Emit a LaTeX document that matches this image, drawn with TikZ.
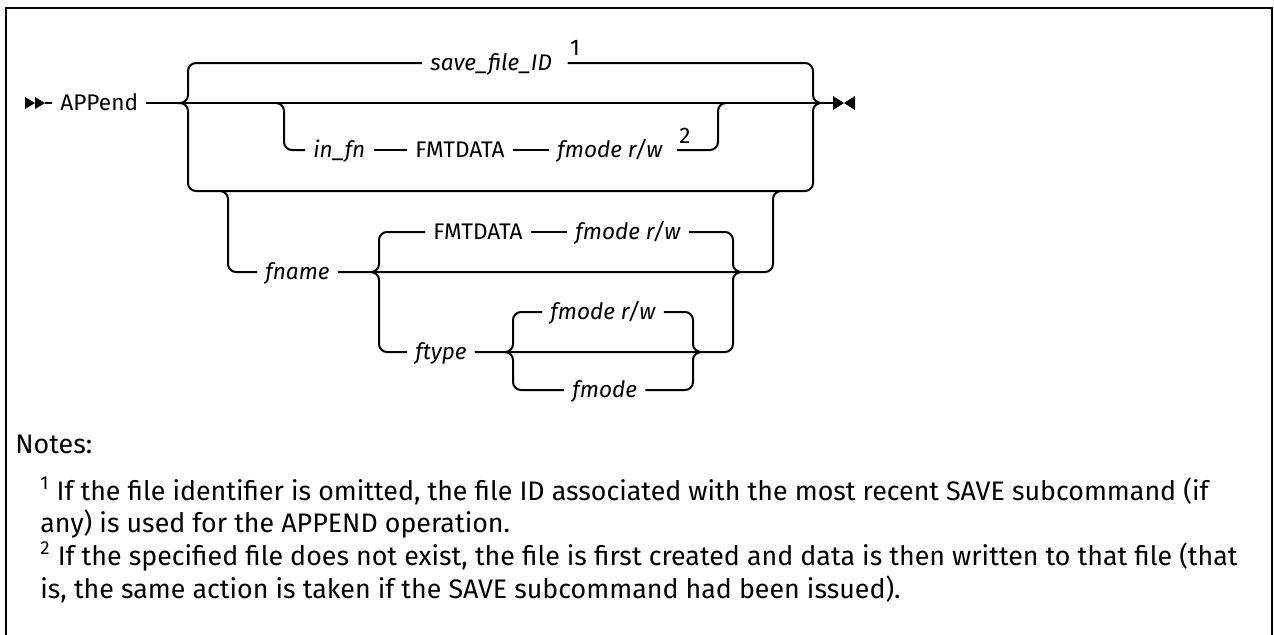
\documentclass[tikz,border=0pt]{standalone}
\usepackage{fontspec}
\setmainfont{Fira Sans}
\begin{document}
\begin{tikzpicture}[x=0.5pt,y=-0.5pt,
  rr/.style={line width=1pt, rounded corners=4pt},
  kw/.style={inner xsep=4pt, inner ysep=0pt, text height=1.4ex, text depth=0pt, anchor=west, font=\fontsize{11.3}{13}\selectfont},
  var/.style={kw, font=\fontsize{11.3}{13}\selectfont\itshape},
  noteref/.style={inner sep=1pt, font=\fontsize{11.3}{13}\selectfont},
  notetxt/.style={inner sep=0pt, anchor=base west, font=\fontsize{13.4}{15}\selectfont},
  tip/.style={fill=black}]
\useasboundingbox (0,0) rectangle (1274,634);
% frame
\draw[line width=1pt] (6,640) -- (6,8) -- (1272,8) -- (1272,640);
% start and end markers
\coordinate (s1) at (35,103);
\coordinate (s2) at (45,103);
\coordinate (e0) at (833,103);
\coordinate (e1) at (844,103);
\fill[tip] (25,97) -- (s1) -- (25,109) -- cycle;
\fill[tip] (35,97) -- (s2) -- (35,109) -- cycle;
\fill[tip] (833,96) -- (e1) -- (833,110) -- cycle;
\fill[tip] (855,96) -- (e1) -- (855,110) -- cycle;
% nodes
\node[kw]  (app)   at (52,103)  {APPend};
\node[var] (sfid)  at (422,63)  {save\_file\_ID};
\node[noteref] (r1) at (575,48) {1};
\node[var] (infn)  at (305,150) {in\_fn};
\node[kw]  (fmt1)  at (407,150) {FMTDATA};
\node[var] (fm1)   at (549,150) {fmode r/w};
\node[noteref] (r2) at (685,136) {2};
\node[var] (fname) at (257,272) {fname};
\node[kw]  (fmt2)  at (425,232) {FMTDATA};
\node[var] (fm2)   at (567,232) {fmode r/w};
\node[var] (ftype) at (407,352) {ftype};
\node[var] (fm3)   at (542,312) {fmode r/w};
\node[var] (fm4)   at (564,390) {fmode};
% main line
\draw[line width=1pt] (s2) -- (app.west);
\draw[line width=1pt] (app.east) -- (e0);
% top branch: save_file_ID
\draw[rr] (178,103) -| (188,63) -- (sfid.west);
\draw[rr] (r1.west |- sfid.east) -| (813,103) -- (821,103);
% bottom loop
\draw[rr] (178,103) -| (188,191) -| (813,103) -- (821,103);
% in_fn branch
\draw[rr] (276,103) -| (284,150) -- (infn.west);
\draw[rr] (infn.east) -- (fmt1.west);
\draw[rr] (fmt1.east) -- (fm1.west);
\draw[rr] (r2.west |- fm1.east) -| (718,103) -- (726,103);
% fname branch
\draw[rr] (220,191) -| (228,272) -- (fname.west);
\draw[rr] (fname.east) -| (773,191) -- (781,191);
% FMTDATA fmode r/w
\draw[rr] (371,272) -| (379,232) -- (fmt2.west);
\draw[rr] (fmt2.east) -- (fm2.west);
\draw[rr] (fm2.east) -| (733,272) -- (741,272);
% ftype
\draw[rr] (371,272) -| (379,352) -- (ftype.west);
\draw[rr] (ftype.east) -| (733,272) -- (741,272);
% fmode r/w / fmode
\draw[rr] (505,352) -| (513,312) -- (fm3.west);
\draw[rr] (fm3.east) -| (693,352) -- (701,352);
\draw[rr] (505,352) -| (513,390) -- (fm4.west);
\draw[rr] (fm4.east) -| (693,352) -- (701,352);
% notes
\node[notetxt] (notes) at (15,453) {Notes:};
\node[notetxt] (n1a) at (40,500) {\textsuperscript{1} If the file identifier is omitted, the file ID associated with the most recent SAVE subcommand (if};
\node[notetxt] (n1b) at (40,532) {any) is used for the APPEND operation.};
\node[notetxt] (n2a) at (40,565) {\textsuperscript{2} If the specified file does not exist, the file is first created and data is then written to that file (that};
\node[notetxt] (n2b) at (40,598) {is, the same action is taken if the SAVE subcommand had been issued).};
\end{tikzpicture}
\end{document}
